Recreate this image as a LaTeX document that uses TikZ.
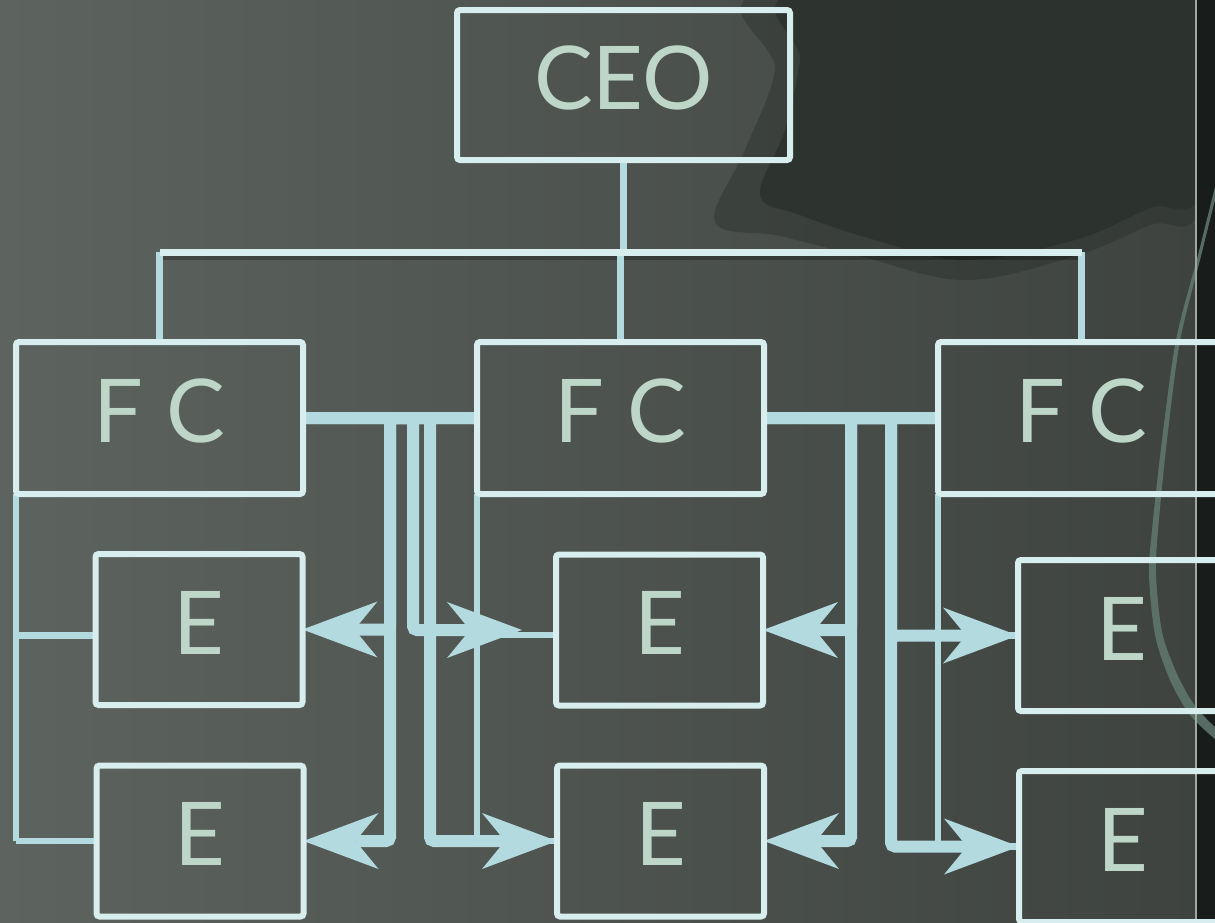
\documentclass[tikz,border=0pt]{standalone}
\usepackage{fontspec}
\setmainfont{Lato}
\usetikzlibrary{arrows.meta}
\pgfdeclarelayer{bg}
\pgfdeclarelayer{links}
\pgfsetlayers{bg,links,main}

\definecolor{bgleft}{RGB}{93,99,94}
\definecolor{bgright}{RGB}{62,67,63}
\definecolor{bgdark}{RGB}{42,48,44}
\definecolor{stripdark}{RGB}{24,28,26}
\definecolor{edgegrey}{RGB}{160,168,164}
\definecolor{arcgreen}{RGB}{96,122,112}
\definecolor{boxline}{RGB}{216,238,238}
\definecolor{linkblue}{RGB}{179,218,223}
\definecolor{labeltext}{RGB}{189,214,200}

\tikzset{
  chartbox/.style={draw=boxline, line width=6pt, rounded corners=3pt, inner sep=0pt, outer sep=0pt,
    text=labeltext, font=\fontsize{88}{100}\selectfont, text height=63pt, text depth=14pt},
  ceobox/.style={chartbox, minimum width=333pt, minimum height=150pt},
  fcbox/.style={chartbox, minimum width=287pt, minimum height=152pt},
  empbox/.style={chartbox, minimum width=207pt, minimum height=151pt},
  tree/.style={draw=linkblue, line width=6.5pt},
  bus/.style={draw=boxline, line width=7pt},
  busshadow/.style={draw=black, line width=6pt, opacity=0.25},
  link/.style={draw=linkblue, line width=12pt, rounded corners=4pt,
    -{Stealth[length=75pt, width=56pt, inset=23pt, line width=0pt]}},
}

\begin{document}
\begin{tikzpicture}[x=1pt, y=-1pt]
\useasboundingbox (0,0) rectangle (1215,922);

% slide background: grey gradient, a dark brush stroke, the dark margin and its arc
\begin{pgfonlayer}{bg}
  \shade[left color=bgleft, right color=bgright] (0,0) rectangle (1197,922);
  \fill[bgdark, opacity=0.45] plot[smooth cycle, tension=0.6] coordinates
    {(770,-10) (1200,-10) (1200,205) (1150,225) (1075,256) (965,280) (860,256) (780,236) (715,222) (745,150) (775,70)};
  \fill[bgdark, opacity=0.8] plot[smooth cycle, tension=0.6] coordinates
    {(805,-10) (1200,-10) (1200,190) (1150,208) (1075,240) (965,260) (875,240) (800,215) (760,195) (785,130) (800,60)};
  \fill[stripdark] (1197,0) rectangle (1215,922);
  \fill[arcgreen, opacity=0.85]
    plot[smooth] coordinates {(1225,150) (1215,187) (1198,255) (1176,340) (1162,440) (1152,530) (1149,575) (1155,635) (1170,680) (1190,715) (1216,740)}
    -- plot[smooth] coordinates {(1218,730) (1195,706) (1177,674) (1162,632) (1156,575) (1158,530) (1167,440) (1180,341) (1201,256) (1218,188) (1228,150)}
    -- cycle;
  \draw[edgegrey, line width=1.5pt] (1196,0) -- (1196,922);
\end{pgfonlayer}

% chart boxes
\node[ceobox] (ceo) at (623.5,85) {CEO};
\node[fcbox] (fc1) at (159.5,418) {F C};
\node[fcbox] (fc2) at (620.5,418) {F C};
\node[fcbox] (fc3) at (1081.5,418) {F C};
\node[empbox] (e1a) at (199,629.5) {E};
\node[empbox] (e1b) at (200,841) {E};
\node[empbox] (e2a) at (659.5,630) {E};
\node[empbox] (e2b) at (660.5,841) {E};
\node[empbox] (e3a) at (1121.5,635.5) {E};
\node[empbox] (e3b) at (1122.5,846.5) {E};

% routing helpers
\coordinate (bus) at (0,252);
\coordinate (bus shadow) at (0,257);
\coordinate (colB) at (390,0);
\coordinate (colA1) at (413,0);
\coordinate (colA2) at (430,0);
\coordinate (colD) at (851,0);
\coordinate (colC) at (891,0);
\coordinate (e2a tip) at ([xshift=-34pt]e2a.west);
\coordinate (e1a in) at ([yshift=-6pt]e1a.west);
\coordinate (e2a in) at ([yshift=-5pt]e2a.west);

\begin{pgfonlayer}{links}
  % reporting tree
  \draw[busshadow] (fc1.north |- bus shadow) -- (fc3.north |- bus shadow);
  \draw[tree] (ceo.south) -- (ceo.south |- bus);
  \draw[tree] (fc1.north |- bus) -- (fc1.north);
  \draw[tree] (fc2.north |- bus) -- (fc2.north);
  \draw[tree] (fc3.north |- bus) -- (fc3.north);
  \draw[bus] (fc1.north |- bus) -- (fc3.north |- bus);

  % each coordinator to its own staff
  \draw[tree] (fc1.south west) -- (fc1.south west |- e1b.west);
  \draw[tree] (fc1.south west |- e1a in) -- (e1a in);
  \draw[tree] (fc1.south west |- e1b.west) -- (e1b.west);
  \draw[tree] (fc2.south west) -- (fc2.south west |- e2b.west);
  \draw[tree] (fc2.south west |- e2a in) -- (e2a in);
  \draw[tree] (fc2.south west |- e2b.west) -- (e2b.west);
  \draw[tree] (fc3.south west) -- (fc3.south west |- e3b.west);
  \draw[tree] (fc3.south west |- e3a.west) -- (e3a.west);
  \draw[tree] (fc3.south west |- e3b.west) -- (e3b.west);

  % cross links between coordinators and neighbouring staff
  \draw[link] (fc1.east) -- (fc1.east -| colA1) |- (e2a tip);
  \draw[link] (fc1.east) -- (fc1.east -| colA2) |- (e2b.west);
  \draw[link] (fc2.west) -- (fc2.west -| colB) |- (e1a.east);
  \draw[link] (fc2.west) -- (fc2.west -| colB) |- (e1b.east);
  \draw[link] (fc2.east) -- (fc2.east -| colC) |- (e3a.west);
  \draw[link] (fc2.east) -- (fc2.east -| colC) |- (e3b.west);
  \draw[link] (fc3.west) -- (fc3.west -| colD) |- (e2a.east);
  \draw[link] (fc3.west) -- (fc3.west -| colD) |- (e2b.east);
\end{pgfonlayer}
\end{tikzpicture}
\end{document}
